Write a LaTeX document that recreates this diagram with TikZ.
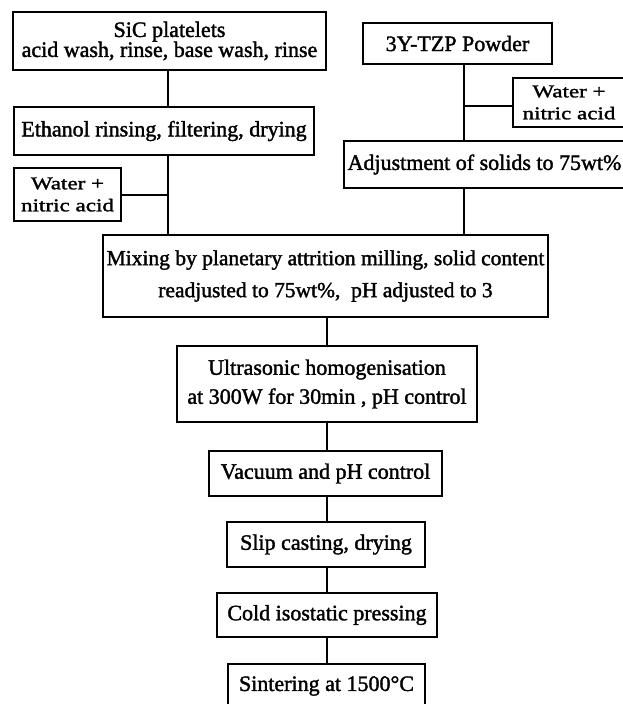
\documentclass[tikz,border=0pt]{standalone}
\usepackage{fontspec}
\setmainfont[FakeBold=1.6,FakeStretch=1.0]{Liberation Serif}
\newfontfamily\wfont[FakeBold=1.6,FakeStretch=1.28]{Liberation Serif}
\begin{document}
\begin{tikzpicture}[x=1pt,y=-1pt,
  box/.style={draw,line width=1.8pt,inner sep=0pt,align=center,
    font=\fontsize{22}{27}\selectfont},
  link/.style={line width=2pt}]
\clip (0,0) rectangle (623,704);
\fill[white] (0,0) rectangle (623,704);
\node[box,minimum width=313,minimum height=58,font=\fontsize{22}{20}\selectfont] (sic) at (169.5,41) {SiC platelets\\acid wash, rinse, base wash, rinse};
\node[box,minimum width=300,minimum height=48] (eth) at (164,131) {Ethanol rinsing, filtering, drying};
\node[box,minimum width=107,minimum height=53,font=\wfont\fontsize{18}{22}\selectfont] (wl) at (67.5,194.5) {Water +\\nitric acid};
\node[box,minimum width=189,minimum height=41] (tzp) at (457.5,43.5) {3Y-TZP Powder};
\node[box,minimum width=112,minimum height=49,font=\wfont\fontsize{18}{22}\selectfont] (wr) at (569,102.5) {Water +\\nitric acid};
\node[box,minimum width=281,minimum height=47] (adj) at (484.5,164.5) {Adjustment of solids to 75wt\%};
\node[box,minimum width=445,minimum height=82,font=\fontsize{21.5}{32}\selectfont] (mix) at (325.5,276) {Mixing by planetary attrition milling, solid content\\readjusted to 75wt\%,\ \ pH adjusted to 3};
\node[box,minimum width=300,minimum height=76,font=\fontsize{22}{29}\selectfont] (ult) at (327,384) {Ultrasonic homogenisation\\at 300W for 30min , pH control};
\node[box,minimum width=233,minimum height=45] (vac) at (325.5,473.5) {Vacuum and pH control};
\node[box,minimum width=198,minimum height=45] (slip) at (326,544.5) {Slip casting, drying};
\node[box,minimum width=220,minimum height=44] (cold) at (327,615) {Cold isostatic pressing};
\node[box,minimum width=197,minimum height=44] (sint) at (326.5,686) {Sintering at 1500°C};
\coordinate (lx) at (168,0);
\coordinate (rx) at (464,0);
\coordinate (cx) at (327,0);
\draw[link] (sic.south -| lx) -- (eth.north -| lx);
\draw[link] (eth.south -| lx) -- (mix.north -| lx);
\draw[link] (wl.east) -- (wl.east -| lx);
\draw[link] (tzp.south -| rx) -- (adj.north -| rx);
\draw[link] ([yshift=-3.5pt]wr.west) -- ([yshift=-3.5pt]wr.west -| rx);
\draw[link] (adj.south -| rx) -- (mix.north -| rx);
\draw[link] (mix.south -| cx) -- (ult.north -| cx);
\draw[link] (ult.south -| cx) -- (vac.north -| cx);
\draw[link] (vac.south -| cx) -- (slip.north -| cx);
\draw[link] (slip.south -| cx) -- (cold.north -| cx);
\draw[link] (cold.south -| cx) -- (sint.north -| cx);
\end{tikzpicture}
\end{document}
